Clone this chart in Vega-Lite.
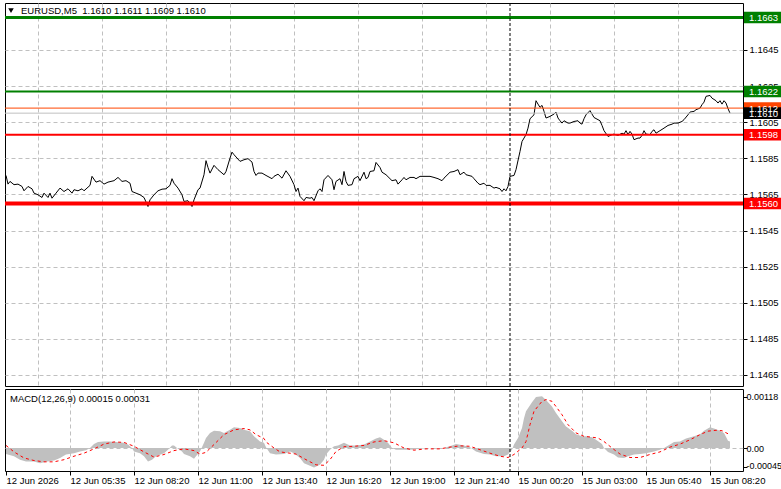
{
  "$schema": "https://vega.github.io/schema/vega-lite/v6.json",
  "background": "#ffffff",
  "padding": {"left": 2, "top": 2, "right": 0, "bottom": 0},
  "spacing": 1,
  "datasets": {
    "price": [
      {"i":0,"p":1.15755},{"i":1,"p":1.15707},{"i":2,"p":1.15722},{"i":4,"p":1.15704},{"i":6,"p":1.15707},{"i":8,"p":1.15694},{"i":9,"p":1.15670},{"i":11,"p":1.15694},{"i":13,"p":1.15681},{"i":14,"p":1.15657},{"i":16,"p":1.15648},{"i":18,"p":1.15633},{"i":19,"p":1.15657},{"i":21,"p":1.15633},{"i":22,"p":1.15657},{"i":23,"p":1.15629},{"i":25,"p":1.15657},{"i":27,"p":1.15685},{"i":29,"p":1.15666},{"i":31,"p":1.15681},{"i":33,"p":1.15657},{"i":34,"p":1.15676},{"i":36,"p":1.15670},{"i":38,"p":1.15681},{"i":39,"p":1.15670},{"i":42,"p":1.15700},{"i":43,"p":1.15750},{"i":45,"p":1.15718},{"i":47,"p":1.15726},{"i":49,"p":1.15707},{"i":51,"p":1.15718},{"i":54,"p":1.15726},{"i":56,"p":1.15744},{"i":58,"p":1.15722},{"i":60,"p":1.15726},{"i":62,"p":1.15712},{"i":63,"p":1.15666},{"i":65,"p":1.15657},{"i":67,"p":1.15648},{"i":69,"p":1.15633},{"i":71,"p":1.15583},{"i":72,"p":1.15620},{"i":74,"p":1.15648},{"i":76,"p":1.15670},{"i":78,"p":1.15679},{"i":80,"p":1.15681},{"i":82,"p":1.15700},{"i":83,"p":1.15737},{"i":84,"p":1.15712},{"i":86,"p":1.15685},{"i":88,"p":1.15648},{"i":89,"p":1.15611},{"i":91,"p":1.15615},{"i":93,"p":1.15583},{"i":94,"p":1.15620},{"i":96,"p":1.15676},{"i":97,"p":1.15685},{"i":99,"p":1.15759},{"i":100,"p":1.15837},{"i":101,"p":1.15799},{"i":102,"p":1.15768},{"i":104,"p":1.15811},{"i":106,"p":1.15787},{"i":109,"p":1.15759},{"i":110,"p":1.15777},{"i":112,"p":1.15851},{"i":113,"p":1.15884},{"i":114,"p":1.15870},{"i":117,"p":1.15833},{"i":119,"p":1.15842},{"i":121,"p":1.15848},{"i":123,"p":1.15829},{"i":124,"p":1.15777},{"i":125,"p":1.15755},{"i":126,"p":1.15768},{"i":128,"p":1.15768},{"i":130,"p":1.15755},{"i":133,"p":1.15737},{"i":134,"p":1.15750},{"i":136,"p":1.15762},{"i":138,"p":1.15740},{"i":140,"p":1.15781},{"i":142,"p":1.15750},{"i":144,"p":1.15704},{"i":145,"p":1.15666},{"i":146,"p":1.15685},{"i":147,"p":1.15639},{"i":149,"p":1.15615},{"i":150,"p":1.15633},{"i":152,"p":1.15629},{"i":153,"p":1.15633},{"i":154,"p":1.15615},{"i":156,"p":1.15670},{"i":157,"p":1.15681},{"i":158,"p":1.15666},{"i":159,"p":1.15731},{"i":161,"p":1.15755},{"i":163,"p":1.15731},{"i":164,"p":1.15676},{"i":165,"p":1.15722},{"i":167,"p":1.15737},{"i":168,"p":1.15704},{"i":169,"p":1.15777},{"i":170,"p":1.15722},{"i":171,"p":1.15700},{"i":173,"p":1.15704},{"i":174,"p":1.15737},{"i":176,"p":1.15750},{"i":177,"p":1.15726},{"i":179,"p":1.15773},{"i":180,"p":1.15737},{"i":181,"p":1.15744},{"i":182,"p":1.15777},{"i":184,"p":1.15781},{"i":185,"p":1.15827},{"i":187,"p":1.15799},{"i":188,"p":1.15773},{"i":190,"p":1.15759},{"i":192,"p":1.15737},{"i":193,"p":1.15726},{"i":195,"p":1.15731},{"i":196,"p":1.15707},{"i":198,"p":1.15731},{"i":199,"p":1.15744},{"i":200,"p":1.15731},{"i":202,"p":1.15744},{"i":204,"p":1.15744},{"i":205,"p":1.15737},{"i":207,"p":1.15750},{"i":209,"p":1.15750},{"i":212,"p":1.15750},{"i":214,"p":1.15744},{"i":216,"p":1.15737},{"i":218,"p":1.15726},{"i":219,"p":1.15740},{"i":222,"p":1.15773},{"i":224,"p":1.15777},{"i":226,"p":1.15787},{"i":227,"p":1.15759},{"i":229,"p":1.15773},{"i":230,"p":1.15759},{"i":233,"p":1.15750},{"i":234,"p":1.15737},{"i":236,"p":1.15712},{"i":237,"p":1.15704},{"i":239,"p":1.15712},{"i":240,"p":1.15700},{"i":242,"p":1.15700},{"i":244,"p":1.15685},{"i":245,"p":1.15689},{"i":247,"p":1.15681},{"i":248,"p":1.15666},{"i":249,"p":1.15681},{"i":250,"p":1.15670},{"i":251,"p":1.15694},{"i":252,"p":1.15750},{"i":254,"p":1.15755},{"i":255,"p":1.15787},{"i":257,"p":1.15888},{"i":258,"p":1.15943},{"i":260,"p":1.15981},{"i":261,"p":1.16017},{"i":262,"p":1.16069},{"i":264,"p":1.16091},{"i":265,"p":1.16169},{"i":266,"p":1.16150},{"i":267,"p":1.16132},{"i":268,"p":1.16143},{"i":269,"p":1.16110},{"i":270,"p":1.16073},{"i":272,"p":1.16082},{"i":274,"p":1.16095},{"i":275,"p":1.16106},{"i":276,"p":1.16073},{"i":277,"p":1.16058},{"i":278,"p":1.16045},{"i":279,"p":1.16058},{"i":281,"p":1.16045},{"i":282,"p":1.16045},{"i":284,"p":1.16054},{"i":286,"p":1.16058},{"i":287,"p":1.16045},{"i":288,"p":1.16039},{"i":289,"p":1.16069},{"i":290,"p":1.16091},{"i":292,"p":1.16114},{"i":293,"p":1.16095},{"i":294,"p":1.16076},{"i":297,"p":1.16058},{"i":298,"p":1.16032},{"i":299,"p":1.16003},{"i":301,"p":1.15971},{"i":303,"p":1.15981},{"i":304,"p":1.15984},{"i":306,"p":1.15977},{"i":308,"p":1.15989},{"i":309,"p":1.15984},{"i":310,"p":1.16003},{"i":311,"p":1.15981},{"i":312,"p":1.15999},{"i":313,"p":1.15984},{"i":314,"p":1.15953},{"i":316,"p":1.15962},{"i":317,"p":1.15962},{"i":318,"p":1.15977},{"i":319,"p":1.16003},{"i":320,"p":1.15984},{"i":322,"p":1.15981},{"i":323,"p":1.15999},{"i":324,"p":1.16008},{"i":325,"p":1.15989},{"i":327,"p":1.16003},{"i":329,"p":1.16017},{"i":331,"p":1.16032},{"i":333,"p":1.16039},{"i":334,"p":1.16045},{"i":336,"p":1.16045},{"i":338,"p":1.16054},{"i":339,"p":1.16064},{"i":341,"p":1.16091},{"i":342,"p":1.16106},{"i":344,"p":1.16110},{"i":345,"p":1.16119},{"i":347,"p":1.16128},{"i":348,"p":1.16147},{"i":349,"p":1.16161},{"i":350,"p":1.16193},{"i":352,"p":1.16198},{"i":353,"p":1.16183},{"i":355,"p":1.16169},{"i":356,"p":1.16156},{"i":357,"p":1.16169},{"i":358,"p":1.16150},{"i":359,"p":1.16169},{"i":360,"p":1.16156},{"i":361,"p":1.16125},{"i":362,"p":1.16100}
    ],
    "hist": [
      {"i":0,"v":-0.00014},{"i":4,"v":-0.00019},{"i":7,"v":-0.00027},{"i":10,"v":-0.00031},{"i":14,"v":-0.00031},{"i":17,"v":-0.00035},{"i":20,"v":-0.00032},{"i":24,"v":-0.00029},{"i":27,"v":-0.00023},{"i":30,"v":-0.00015},{"i":34,"v":-0.00012},{"i":37,"v":-0.00008},{"i":40,"v":-0.00005},{"i":42,"v":0.0},{"i":44,"v":0.00009},{"i":46,"v":0.00014},{"i":49,"v":0.00015},{"i":52,"v":0.00015},{"i":55,"v":0.00014},{"i":59,"v":0.00012},{"i":61,"v":0.00008},{"i":63,"v":0.0},{"i":64,"v":-0.00008},{"i":67,"v":-0.00012},{"i":69,"v":-0.00019},{"i":71,"v":-0.00031},{"i":73,"v":-0.00027},{"i":75,"v":-0.00019},{"i":79,"v":-0.00012},{"i":81,"v":-0.00004},{"i":83,"v":0.00006},{"i":84,"v":0.00006},{"i":86,"v":-0.00002},{"i":88,"v":-0.00008},{"i":89,"v":-0.00014},{"i":92,"v":-0.00019},{"i":94,"v":-0.00025},{"i":95,"v":-0.00019},{"i":97,"v":-0.00008},{"i":99,"v":0.00012},{"i":100,"v":0.00023},{"i":102,"v":0.00035},{"i":104,"v":0.00040},{"i":107,"v":0.00039},{"i":109,"v":0.00035},{"i":112,"v":0.00042},{"i":114,"v":0.00048},{"i":117,"v":0.00046},{"i":119,"v":0.00042},{"i":122,"v":0.00039},{"i":124,"v":0.00027},{"i":127,"v":0.00015},{"i":129,"v":0.00012},{"i":130,"v":0.00002},{"i":132,"v":-0.00012},{"i":135,"v":-0.00015},{"i":139,"v":-0.00014},{"i":142,"v":-0.00008},{"i":144,"v":-0.00012},{"i":147,"v":-0.00023},{"i":149,"v":-0.00035},{"i":152,"v":-0.00041},{"i":154,"v":-0.00045},{"i":157,"v":-0.00039},{"i":159,"v":-0.00027},{"i":160,"v":-0.00015},{"i":162,"v":-0.00004},{"i":164,"v":0.00004},{"i":166,"v":0.00006},{"i":169,"v":0.00012},{"i":172,"v":0.00006},{"i":175,"v":0.00006},{"i":179,"v":0.00008},{"i":182,"v":0.00015},{"i":185,"v":0.00022},{"i":187,"v":0.00025},{"i":189,"v":0.00019},{"i":191,"v":0.00012},{"i":193,"v":0.0},{"i":195,"v":-0.00004},{"i":199,"v":-0.00004},{"i":202,"v":-0.00004},{"i":207,"v":-0.00002},{"i":212,"v":0.0},{"i":215,"v":-0.00002},{"i":219,"v":0.0},{"i":223,"v":0.00006},{"i":225,"v":0.00009},{"i":229,"v":0.00006},{"i":232,"v":0.00002},{"i":235,"v":-0.00008},{"i":239,"v":-0.00014},{"i":242,"v":-0.00015},{"i":245,"v":-0.00019},{"i":249,"v":-0.00019},{"i":251,"v":-0.00015},{"i":253,"v":-0.00004},{"i":254,"v":0.00008},{"i":256,"v":0.00023},{"i":258,"v":0.00046},{"i":259,"v":0.00069},{"i":260,"v":0.00085},{"i":263,"v":0.00106},{"i":265,"v":0.00118},{"i":268,"v":0.00120},{"i":270,"v":0.00111},{"i":273,"v":0.00096},{"i":275,"v":0.00081},{"i":278,"v":0.00062},{"i":280,"v":0.00050},{"i":283,"v":0.00040},{"i":285,"v":0.00032},{"i":288,"v":0.00027},{"i":290,"v":0.00027},{"i":293,"v":0.00025},{"i":295,"v":0.00019},{"i":298,"v":0.00009},{"i":299,"v":0.0},{"i":301,"v":-0.00009},{"i":304,"v":-0.00015},{"i":306,"v":-0.00022},{"i":309,"v":-0.00023},{"i":311,"v":-0.00019},{"i":314,"v":-0.00015},{"i":317,"v":-0.00014},{"i":320,"v":-0.00012},{"i":324,"v":-0.00008},{"i":327,"v":-0.00004},{"i":329,"v":0.0},{"i":332,"v":0.00008},{"i":334,"v":0.00014},{"i":337,"v":0.00015},{"i":340,"v":0.00022},{"i":344,"v":0.00027},{"i":347,"v":0.00032},{"i":349,"v":0.00040},{"i":352,"v":0.00048},{"i":354,"v":0.00045},{"i":357,"v":0.00040},{"i":359,"v":0.00035},{"i":361,"v":0.00017},{"i":362,"v":0.00015}
    ],
    "signal": [
      {"i":0,"v":0.00006},{"i":4,"v":-0.00009},{"i":9,"v":-0.00023},{"i":14,"v":-0.00029},{"i":19,"v":-0.00032},{"i":24,"v":-0.00032},{"i":29,"v":-0.00027},{"i":34,"v":-0.00019},{"i":39,"v":-0.00012},{"i":44,"v":-0.00002},{"i":49,"v":0.00009},{"i":54,"v":0.00014},{"i":59,"v":0.00013},{"i":64,"v":0.00004},{"i":69,"v":-0.00009},{"i":74,"v":-0.00021},{"i":79,"v":-0.00015},{"i":84,"v":-0.00006},{"i":89,"v":-0.00002},{"i":94,"v":-0.00006},{"i":97,"v":-0.00014},{"i":100,"v":-0.00010},{"i":104,"v":0.00008},{"i":109,"v":0.00031},{"i":114,"v":0.00042},{"i":119,"v":0.00045},{"i":122,"v":0.00042},{"i":125,"v":0.00031},{"i":129,"v":0.00022},{"i":130,"v":0.00014},{"i":134,"v":0.0},{"i":137,"v":-0.00009},{"i":142,"v":-0.00012},{"i":145,"v":-0.00014},{"i":150,"v":-0.00027},{"i":155,"v":-0.00039},{"i":159,"v":-0.00040},{"i":162,"v":-0.00027},{"i":165,"v":-0.00008},{"i":169,"v":0.00003},{"i":174,"v":0.00004},{"i":179,"v":0.00006},{"i":184,"v":0.00014},{"i":189,"v":0.00017},{"i":194,"v":0.00012},{"i":199,"v":0.0},{"i":204,"v":-0.00005},{"i":210,"v":-0.00002},{"i":217,"v":-0.00002},{"i":222,"v":0.00002},{"i":227,"v":0.00005},{"i":232,"v":0.00004},{"i":237,"v":-0.00004},{"i":242,"v":-0.00012},{"i":247,"v":-0.00019},{"i":251,"v":-0.00022},{"i":254,"v":-0.00015},{"i":258,"v":0.0},{"i":260,"v":0.00015},{"i":262,"v":0.00054},{"i":264,"v":0.00085},{"i":268,"v":0.00108},{"i":270,"v":0.00112},{"i":273,"v":0.00108},{"i":275,"v":0.00096},{"i":278,"v":0.00077},{"i":281,"v":0.00054},{"i":285,"v":0.00035},{"i":289,"v":0.00027},{"i":293,"v":0.00025},{"i":296,"v":0.00023},{"i":299,"v":0.00015},{"i":303,"v":0.0},{"i":307,"v":-0.00014},{"i":312,"v":-0.00022},{"i":317,"v":-0.00022},{"i":322,"v":-0.00015},{"i":327,"v":-0.00009},{"i":332,"v":0.00002},{"i":337,"v":0.00009},{"i":342,"v":0.00019},{"i":347,"v":0.00031},{"i":351,"v":0.00039},{"i":355,"v":0.00041},{"i":358,"v":0.00040},{"i":361,"v":0.00033}
    ],
    "levels": [
      {"kind":"r2","price":1.1663,"label":"1.1663"},
      {"kind":"r1","price":1.1622,"label":"1.1622"},
      {"kind":"ask","price":1.16128,"label":"1.1612"},
      {"kind":"s1","price":1.1598,"label":"1.1598"},
      {"kind":"s2","price":1.1560,"label":"1.1560"},
      {"kind":"bid","price":1.1610,"label":"1.1610"}
    ],
    "separator": [{"i":252,"label":"15 Jun 00:00"}],
    "header": [{"t":"EURUSD,M5\u00a0\u00a01.1610 1.1611 1.1609 1.1610"}],
    "macdlabel": [{"t":"MACD(12,26,9) 0.00015 0.00031"}]
  },
  "vconcat": [
    {
      "width": 738,
      "height": 383,
      "layer": [
        {
          "data": {"name": "price"},
          "mark": {"type": "line", "color": "#000000", "strokeWidth": 1},
          "encoding": {
            "x": {"field": "i", "type": "quantitative",
              "scale": {"domain": [-0.5, 368.5], "nice": false, "zero": false},
              "axis": {"orient": "bottom", "title": null, "values": [16,32,48,64,80,96,112,128,144,160,176,192,208,224,240,256,272,288,304,320,336,352], "labels": false, "ticks": false, "domain": false, "grid": true}},
            "y": {"field": "p", "type": "quantitative",
              "scale": {"domain": [1.14589, 1.1671], "nice": false, "zero": false},
              "axis": {"orient": "right", "title": null, "values": [1.1465,1.1485,1.1505,1.1525,1.1545,1.1565,1.1585,1.1605,1.1625,1.1645], "format": ".4f", "grid": true, "tickSize": 4, "labelPadding": 2, "domain": false, "labelOverlap": false, "labelBound": false, "labelFlush": false}}
          }
        },
        {
          "data": {"name": "levels"},
          "mark": {"type": "rule"},
          "encoding": {
            "y": {"field": "price", "type": "quantitative", "title": null},
            "stroke": {"field": "kind", "type": "nominal", "legend": null,
              "scale": {"type": "ordinal", "domain": ["r2","r1","ask","s1","s2","bid"], "range": ["#008000","#008000","#ff4500","#ff0000","#ff0000","#c0c0c0"]}},
            "strokeWidth": {"field": "kind", "type": "nominal", "legend": null,
              "scale": {"type": "ordinal", "domain": ["r2","r1","ask","s1","s2","bid"], "range": [3,2,1,2,4,1]}}
          }
        },
        {
          "data": {"name": "separator"},
          "mark": {"type": "rule", "color": "#000000", "strokeWidth": 1, "strokeDash": [3, 2]},
          "encoding": {"x": {"field": "i", "type": "quantitative", "title": null}}
        },
        {
          "data": {"name": "levels"},
          "mark": {"type": "point", "shape": "M-1,-0.29L1,-0.29L1,0.29L-1,0.29Z", "size": 1600, "filled": true, "opacity": 1, "strokeWidth": 0},
          "encoding": {
            "x": {"datum": 379},
            "y": {"field": "price", "type": "quantitative", "title": null},
            "fill": {"field": "kind", "type": "nominal", "legend": null,
              "scale": {"type": "ordinal", "domain": ["r2","r1","ask","s1","s2","bid"], "range": ["#008000","#008000","#ff4500","#ff0000","#ff0000","#000000"]}}
          }
        },
        {
          "data": {"name": "levels"},
          "mark": {"type": "text", "align": "left", "baseline": "middle", "font": "Liberation Sans", "fontSize": 9.5, "color": "#ffffff", "dy": 0.5},
          "encoding": {
            "x": {"datum": 371.5},
            "y": {"field": "price", "type": "quantitative", "title": null},
            "text": {"field": "label"}
          }
        },
        {
          "data": {"name": "header"},
          "mark": {"type": "point", "shape": "triangle-down", "size": 30, "filled": true, "color": "#000000", "opacity": 1},
          "encoding": {"x": {"datum": 2.5}, "y": {"datum": 1.16668}}
        },
        {
          "data": {"name": "header"},
          "mark": {"type": "text", "align": "left", "baseline": "middle", "font": "Liberation Sans", "fontSize": 9.5, "color": "#000000"},
          "encoding": {"x": {"datum": 7.5}, "y": {"datum": 1.16668}, "text": {"field": "t"}}
        }
      ]
    },
    {
      "width": 738,
      "height": 82,
      "layer": [
        {
          "data": {"name": "hist"},
          "mark": {"type": "area", "color": "#c0c0c0", "opacity": 1},
          "encoding": {
            "x": {"field": "i", "type": "quantitative",
              "scale": {"domain": [-0.5, 368.5], "nice": false, "zero": false},
              "axis": {"orient": "bottom", "title": null, "values": [0,16,32,48,64,80,96,112,128,144,160,176,192,208,224,240,256,272,288,304,320,336,352], "grid": true,
                "gridOpacity": {"condition": {"test": "datum.value > 0", "value": 1}, "value": 0},
                "tickOpacity": {"condition": {"test": "datum.value % 32 === 0", "value": 1}, "value": 0},
                "tickSize": 4, "labelAlign": "left", "labelBaseline": "top", "labelPadding": 0, "labelOverlap": false, "labelBound": false, "labelFlush": false, "domain": false,
                "labelExpr": "datum.value % 32 === 0 ? ['12 Jun 2026','12 Jun 05:35','12 Jun 08:20','12 Jun 11:00','12 Jun 13:40','12 Jun 16:20','12 Jun 19:00','12 Jun 21:40','15 Jun 00:20','15 Jun 03:00','15 Jun 05:40','15 Jun 08:20'][datum.value / 32] : ''"}},
            "y": {"field": "v", "type": "quantitative",
              "scale": {"domain": [-0.000532, 0.001365], "nice": false, "zero": false},
              "axis": {"orient": "right", "title": null, "values": [-0.00045, 0, 0.00118], "grid": true,
                "gridOpacity": {"condition": {"test": "datum.value === 0", "value": 1}, "value": 0},
                "labelOffset": {"condition": {"test": "datum.value < 0", "value": -2}, "value": 0},
                "tickSize": 4, "labelPadding": -1, "labelFontSize": 9, "domain": false, "labelOverlap": false, "labelBound": false, "labelFlush": false,
                "labelExpr": "datum.value === 0 ? '0.00' : (datum.value < 0 ? '-' + format(-datum.value, '.5f') : format(datum.value, '.5f'))"}},
            "y2": {"datum": 0}
          }
        },
        {
          "data": {"name": "signal"},
          "mark": {"type": "line", "color": "#ff0000", "strokeWidth": 1, "strokeDash": [3, 3]},
          "encoding": {
            "x": {"field": "i", "type": "quantitative", "title": null},
            "y": {"field": "v", "type": "quantitative", "title": null}
          }
        },
        {
          "data": {"name": "separator"},
          "mark": {"type": "rule", "color": "#000000", "strokeWidth": 1, "strokeDash": [3, 2]},
          "encoding": {"x": {"field": "i", "type": "quantitative", "title": null}}
        },
        {
          "data": {"name": "macdlabel"},
          "mark": {"type": "text", "align": "left", "baseline": "middle", "font": "Liberation Sans", "fontSize": 9.5, "color": "#000000"},
          "encoding": {"x": {"datum": 2}, "y": {"datum": 0.00113}, "text": {"field": "t"}}
        }
      ]
    }
  ],
  "config": {
    "view": {"stroke": "#000000", "strokeWidth": 1},
    "axis": {"labelFont": "Liberation Sans", "labelFontSize": 9.5, "labelColor": "#000000", "tickColor": "#000000", "tickWidth": 1, "gridColor": "#c0c0c0", "gridDash": [4, 3], "gridWidth": 1}
  }
}
